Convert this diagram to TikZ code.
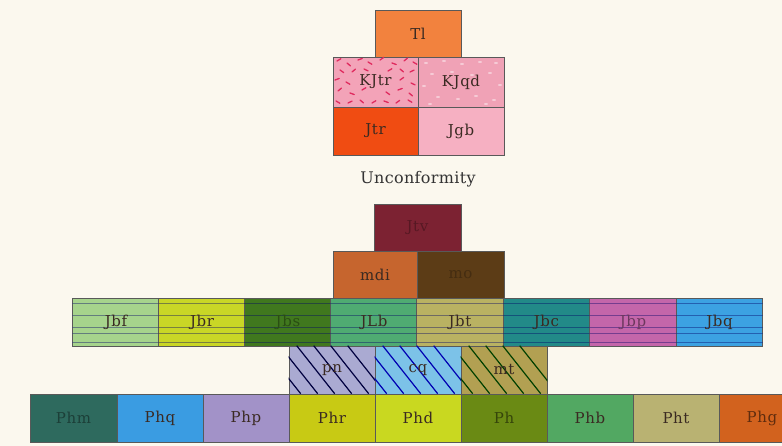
\documentclass[tikz,border=0pt]{standalone}
\usepackage{fontspec}
\setmainfont{DejaVu Serif}
\usetikzlibrary{calc}
\newcommand{\unitfont}{\fontsize{15}{17}\selectfont\addfontfeature{LetterSpace=4}}
\begin{document}
\begin{tikzpicture}[x=1pt,y=-1pt,
  unit/.style={draw=black!65, line width=0.6pt, minimum width=86pt, minimum height=48pt,
    inner sep=0pt, anchor=center, font=\unitfont, text=labeltext},
  tag/.style={font=\unitfont, text=labeltext, inner sep=0pt},
  stripe/.style={line width=0.7pt},
  hatch/.style={line width=1.2pt}]
\definecolor{paper}{HTML}{FBF8EE}
\definecolor{labeltext}{HTML}{3A2A22}
% unit colours
\definecolor{cTl}{HTML}{F2823E}
\definecolor{cKJtr}{HTML}{F3A3B8}
\definecolor{cKJqd}{HTML}{F0A2B6}
\definecolor{cJtr}{HTML}{F04C12}
\definecolor{cJgb}{HTML}{F6B0C2}
\definecolor{cJtv}{HTML}{7C2232}
\definecolor{cmdi}{HTML}{C6652E}
\definecolor{cmo}{HTML}{5C3C16}
\definecolor{cJbf}{HTML}{A6D48C}
\definecolor{cJbr}{HTML}{C9D626}
\definecolor{cJbs}{HTML}{40781E}
\definecolor{cJLb}{HTML}{4FAB72}
\definecolor{cJbt}{HTML}{B9B262}
\definecolor{cJbc}{HTML}{228A88}
\definecolor{cJbp}{HTML}{C466AA}
\definecolor{cJbq}{HTML}{3CA2E2}
\definecolor{cpn}{HTML}{AAAAD2}
\definecolor{ccq}{HTML}{7CC2E8}
\definecolor{cmt}{HTML}{B2A052}
\definecolor{cPhm}{HTML}{2E6A5E}
\definecolor{cPhq}{HTML}{3A9CE2}
\definecolor{cPhp}{HTML}{A292C8}
\definecolor{cPhr}{HTML}{C8CA14}
\definecolor{cPhd}{HTML}{C9D820}
\definecolor{cPh}{HTML}{6A8A14}
\definecolor{cPhb}{HTML}{52A862}
\definecolor{cPht}{HTML}{B9B272}
\definecolor{cPhg}{HTML}{D2621E}
\definecolor{dashred}{HTML}{E02A5E}

\useasboundingbox (0,0) rectangle (782,446);
\fill[paper] (0,0) rectangle (782,446);

% --- upper sequence
\node[unit, fill=cTl, minimum width=86pt, minimum height=47pt] (Tl) at (418,33.5) {Tl};
\node[unit, fill=cKJtr, minimum width=85pt, minimum height=50pt] (KJtr) at (375.5,82) {};
\node[unit, fill=cKJqd, minimum width=86pt, minimum height=50pt] (KJqd) at (461,82) {};
\node[unit, fill=cJtr, minimum width=85pt] (Jtr) at (375.5,131) {Jtr};
\node[unit, fill=cJgb, minimum width=86pt] (Jgb) at (461,131) {Jgb};

% red dashes in KJtr
\begin{scope}
\clip (KJtr.south west) rectangle (KJtr.north east);
\foreach \x/\y/\a in {337/61/30, 347/63/-40, 358/60/20, 368/62/-30, 380/60/35, 392/63/-20, 404/61/40, 413/62/-30,
  340/70/-35, 352/72/40, 364/69/-25, 388/71/30, 400/69/-40, 410/72/25,
  335/80/20, 346/82/-30, 400/80/35, 411/83/-25,
  338/91/40, 350/93/-20, 362/90/30, 386/92/-35, 398/90/20, 409/93/-40,
  336/101/-30, 348/103/25, 360/100/-40, 372/103/30, 384/101/-20, 396/103/35, 408/100/-30}
  \draw[line width=1.3pt, dashred, line cap=round] (\x,\y) -- ++(\a:4.5pt);
\end{scope}
\node[tag] (KJtrl) at (KJtr.center) {KJtr};

% pale speckles in KJqd
\begin{scope}
\clip (KJqd.south west) rectangle (KJqd.north east);
\foreach \x/\y in {426/63, 444/61, 462/64, 480/62, 496/63, 432/74, 452/72, 472/75, 490/73,
  424/86, 500/85, 438/97, 458/99, 476/96, 494/100, 430/104, 486/104}
  \fill[white, opacity=0.45] (\x,\y) ellipse (2pt and 1pt);
\end{scope}
\node[tag] (KJqdl) at (KJqd.center) {KJqd};

\node[font=\fontsize{16}{18}\selectfont\addfontfeature{LetterSpace=2}, text=black!80] (unconf) at (418,179) {Unconformity};

% --- lower sequence
\node[unit, fill=cJtv, minimum width=87pt, minimum height=47pt, text=cJtv!70!black] (Jtv) at (417.5,227.5) {Jtv};
\node[unit, fill=cmdi, minimum width=84pt, minimum height=47pt] (mdi) at (375,274.5) {mdi};
\node[unit, fill=cmo, minimum width=87pt, minimum height=47pt, text=cmo!75!black] (mo) at (460.5,274.5) {mo};

% striped row
\foreach \n/\c/\cx/\tc in {Jbf/cJbf/116/labeltext, Jbr/cJbr/202/labeltext, Jbs/cJbs/288/cJbs!65!black,
  JLb/cJLb/374/labeltext, Jbt/cJbt/460/labeltext, Jbc/cJbc/546.5/labeltext,
  Jbp/cJbp/633/cJbp!55!black, Jbq/cJbq/719.5/labeltext}{
  \node[unit, fill=\c, minimum width=86.5pt] (\n) at (\cx,322) {};
  \foreach \yy in {303,315,327,333,342}
    \draw[stripe, draw=\c!55!blue!60!black, opacity=0.6] (\n.west |- 0,\yy) -- (\n.east |- 0,\yy);
  \node[tag, text=\tc] (\n l) at (\n.center) {\n};
}

% hatched row
\foreach \n/\c/\cx/\hc in {pn/cpn/332/black!75!blue, cq/ccq/418/blue!70!black, mt/cmt/504/green!25!black}{
  \node[unit, fill=\c] (\n) at (\cx,370) {};
  \begin{scope}
    \clip (\n.south west) rectangle (\n.north east);
    \foreach \s in {-60,-43,...,60}
      \draw[hatch, draw=\hc] ($(\n.north west)+(\s,0)$) -- ++(38,48);
  \end{scope}
}
\node[tag] (pnl) at (pn.center) {pn};
\node[tag] (cql) at (cq.center) {cq};
\node[tag] (mtl) at (mt.center) {mt};

% bottom row
\node[unit, fill=cPhm, minimum width=87pt, text=cPhm!60!black] (Phm) at (73.5,418) {Phm};
\node[unit, fill=cPhq] (Phq) at (160,418) {Phq};
\node[unit, fill=cPhp] (Php) at (246,418) {Php};
\node[unit, fill=cPhr] (Phr) at (332,418) {Phr};
\node[unit, fill=cPhd] (Phd) at (418,418) {Phd};
\node[unit, fill=cPh, text=cPh!50!black] (Ph) at (504,418) {Ph};
\node[unit, fill=cPhb] (Phb) at (590,418) {Phb};
\node[unit, fill=cPht] (Pht) at (676,418) {Pht};
\node[unit, fill=cPhg, text=cPhg!45!black] (Phg) at (762,418) {Phg};
\end{tikzpicture}
\end{document}
